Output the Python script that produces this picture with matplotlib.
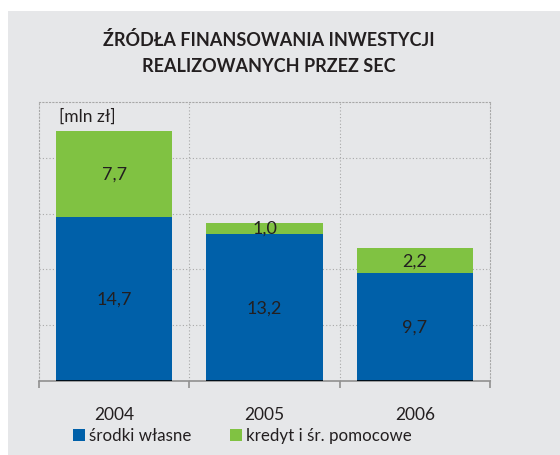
import numpy as np
import matplotlib.pyplot as plt
from matplotlib.patches import Rectangle

plt.rcParams['font.family'] = ['Lato', 'DejaVu Sans']

#----------------------------------------------------------------
#   DATA
#----------------------------------------------------------------
years = ["2004", "2005", "2006"]
own_funds = [14.7, 13.2, 9.7]        # środki własne
credit = [7.7, 1.0, 2.2]             # kredyt i śr. pomocowe
own_labels = ["14,7", "13,2", "9,7"]
credit_labels = ["7,7", "1,0", "2,2"]

blue = "#0060a9"
green = "#80c242"
bg = "#e6e7e9"
txt = "#231f20"

#----------------------------------------------------------------
#   PLOTTING
#----------------------------------------------------------------
fig = plt.figure(figsize=(5.6, 4.56), dpi=100)
fig.patches.append(Rectangle((8 / 560, 0), 1, 1 - 12 / 456, transform=fig.transFigure,
                             facecolor=bg, edgecolor="none", zorder=-10))

ax = fig.add_axes([39 / 560, 1 - 382 / 456, (490 - 39) / 560, (382 - 103) / 456])
ax.set_facecolor(bg)

x = np.arange(len(years))
w = 0.775
ax.bar(x, own_funds, width=w, color=blue, zorder=3)
ax.bar(x, credit, width=w, bottom=own_funds, color=green, zorder=3)
# thin dark line at the base of the bars
ax.hlines(np.zeros(len(x)), x - w / 2, x + w / 2, color="black", lw=1.2, zorder=4)

for i in range(len(years)):
    ax.text(x[i], own_funds[i] / 2, own_labels[i], ha="center", va="center", fontsize=13,
            color=txt, zorder=5)
    ax.text(x[i], own_funds[i] + credit[i] / 2, credit_labels[i], ha="center", va="center",
            fontsize=13, color=txt, zorder=5)

ax.set_xlim(-0.5, 2.5)
ax.set_ylim(0, 25)

# dotted grid
for yv in [5, 10, 15, 20]:
    ax.axhline(yv, color="#a8a8a8", lw=0.8, ls=(0, (1, 2)), zorder=1)
for xv in [0.5, 1.5]:
    ax.axvline(xv, color="#a8a8a8", lw=0.8, ls=(0, (1, 2)), zorder=1)

for s in ["left", "right", "top"]:
    ax.spines[s].set_color("#a8a8a8")
    ax.spines[s].set_linestyle((0, (1, 2)))
    ax.spines[s].set_linewidth(0.8)
ax.spines["bottom"].set_color("#909090")
ax.spines["bottom"].set_linewidth(1.2)

ax.set_yticks([])
ax.set_xticks([-0.5, 0.5, 1.5, 2.5])
ax.set_xticklabels([])
ax.tick_params(axis="x", direction="out", length=5, color="#909090", width=1.2)

for i, yr in enumerate(years):
    ax.text(x[i], -3.0, yr, ha="center", va="center", fontsize=12.5, color=txt, clip_on=False)

ax.text(-0.37, 23.8, "[mln zł]", ha="left", va="center", fontsize=12.5, color=txt)

fig.text(269 / 560, 1 - 40 / 456, "ŹRÓDŁA FINANSOWANIA INWESTYCJI", ha="center", va="center",
         fontsize=13, fontweight="bold", color=txt)
fig.text(269 / 560, 1 - 67 / 456, "REALIZOWANYCH PRZEZ SEC", ha="center", va="center",
         fontsize=13, fontweight="bold", color=txt)

# legend
fig.patches.append(Rectangle((73 / 560, 1 - 442 / 456), 12 / 560, 12 / 456,
                             transform=fig.transFigure, facecolor=blue, edgecolor="none"))
fig.text(89 / 560, 1 - 436 / 456, "środki własne", ha="left", va="center", fontsize=12.2, color=txt)
fig.patches.append(Rectangle((230 / 560, 1 - 442 / 456), 12 / 560, 12 / 456,
                             transform=fig.transFigure, facecolor=green, edgecolor="none"))
fig.text(246 / 560, 1 - 436 / 456, "kredyt i śr. pomocowe", ha="left", va="center", fontsize=12.2,
         color=txt)

fig.savefig("out.png", dpi=100, facecolor="white")
